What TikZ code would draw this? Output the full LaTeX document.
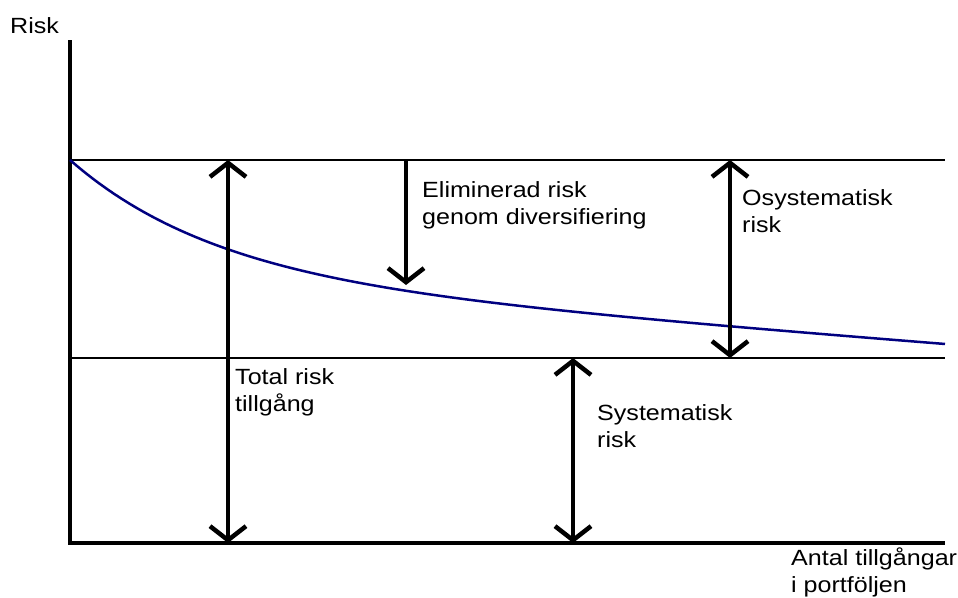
\documentclass[tikz,border=0pt]{standalone}
\usepackage{fontspec}
\setmainfont{Liberation Sans}[FakeStretch=1.14]
\usetikzlibrary{arrows.meta}

\begin{document}
\begin{tikzpicture}[x=1pt,y=-1pt,
  lbl/.style={anchor=north west, inner sep=0, align=left, font=\fontsize{22}{27}\selectfont},
  barb/.style={line width=4.5pt, >={Straight Barb[length=14pt,width=36pt]}}]
\useasboundingbox (0,0) rectangle (958,597);
\coordinate (O) at (70,543);
% axes
\draw[line width=4pt] (70,40) -- (70,545);
\draw[line width=4pt] (68,543) -- (945,543);
\draw[line width=2.5pt] (70,160) -- (945,160);
\draw[line width=2.5pt] (70,358) -- (945,358);
\node[lbl] (yl) at (10,17) {Risk};
\node[lbl] (xl) at (791,548) {Antal tillgångar\\i portföljen};
% risk curve
\draw[line width=2.5pt, color={rgb,255:red,0;green,0;blue,128}]
  plot[domain=70:945, samples=120] (\x, {276+0.078*(\x-70)-116*exp(-(\x-70)/145)});
% arrows
\coordinate (tot1) at (228,160);
\coordinate (tot2) at (228,543);
\coordinate (eli1) at (406,160);
\coordinate (eli2) at (406,285);
\coordinate (osy1) at (730,160);
\coordinate (osy2) at (730,358);
\coordinate (sys1) at (573,358);
\coordinate (sys2) at (573,543);
\draw[barb, <->] (tot1) -- (tot2);
\draw[barb, ->] (eli1) -- (eli2);
\draw[barb, <->] (osy1) -- (osy2);
\draw[barb, <->] (sys1) -- (sys2);
\node[lbl] (totl) at (235,368) {Total risk\\tillgång};
\node[lbl] (elil) at (422,181) {Eliminerad risk\\genom diversifiering};
\node[lbl] (osyl) at (742,189) {Osystematisk\\risk};
\node[lbl] (sysl) at (597,404) {Systematisk\\risk};
\end{tikzpicture}
\end{document}
